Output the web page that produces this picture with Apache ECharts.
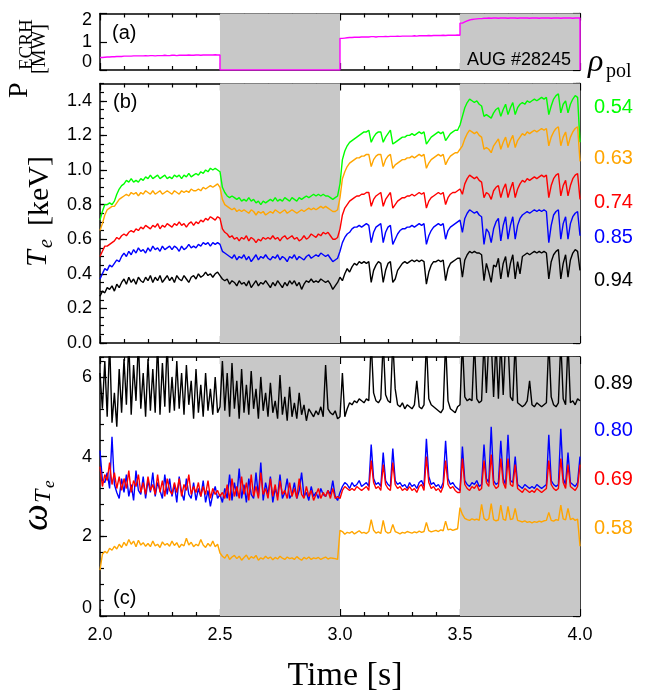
<!DOCTYPE html>
<html><head><meta charset="utf-8">
<script src="https://cdn.jsdelivr.net/npm/echarts@6/dist/echarts.min.js"></script>
<style>html,body{margin:0;padding:0;background:#fff}#c{width:646px;height:698px}</style>
</head><body><div id="c"></div>
<script>
// ---- sampling: t = 2.00 ... 4.00 s, step 0.01 s (201 samples) ----
const tStart = 2.0, tStep = 0.01;

// (a) ECRH power [MW]
const pEcrh = [
0.44,0.45,0.46,0.46,0.47,0.47,0.48,0.48,0.48,0.49,
0.49,0.49,0.49,0.50,0.50,0.50,0.50,0.50,0.51,0.50,
0.51,0.51,0.50,0.51,0.51,0.51,0.52,0.51,0.51,0.52,
0.52,0.51,0.52,0.52,0.52,0.52,0.53,0.52,0.52,0.53,
0.53,0.52,0.53,0.53,0.53,0.53,0.53,0.54,0.53,0.53,
0,0,0,0,0,0,0,0,0,0,
0,0,0,0,0,0,0,0,0,0,
0,0,0,0,0,0,0,0,0,0,
0,0,0,0,0,0,0,0,0,0,
0,0,0,0,0,0,0,0,0,0,
1.12,1.13,1.14,1.15,1.15,1.16,1.16,1.16,1.17,1.17,
1.17,1.17,1.18,1.18,1.17,1.18,1.18,1.18,1.19,1.18,
1.19,1.19,1.19,1.20,1.19,1.20,1.20,1.20,1.20,1.20,
1.21,1.20,1.21,1.21,1.21,1.21,1.22,1.21,1.22,1.22,
1.22,1.22,1.23,1.22,1.23,1.23,1.23,1.23,1.24,1.23,
1.66,1.70,1.74,1.77,1.79,1.80,1.81,1.82,1.82,1.83,
1.83,1.84,1.83,1.84,1.84,1.83,1.84,1.84,1.84,1.83,
1.84,1.84,1.84,1.83,1.84,1.84,1.84,1.84,1.83,1.84,
1.84,1.84,1.83,1.84,1.84,1.84,1.84,1.83,1.84,1.84,
1.84,1.83,1.84,1.84,1.84,1.84,1.83,1.84,1.84,1.84,
0];

// (b) Te [keV] at rho_pol = 0.54, 0.63, 0.74, 0.85, 0.94
const te054 = [
0.71,0.76,0.80,0.80,0.81,0.80,0.82,0.86,0.89,0.91,
0.92,0.94,0.93,0.95,0.93,0.94,0.93,0.95,0.94,0.96,
0.95,0.97,0.95,0.96,0.97,0.95,0.96,0.97,0.95,0.96,
0.95,0.97,0.96,0.97,0.95,0.97,0.96,0.98,0.96,0.97,
0.98,0.97,0.99,0.98,1.00,0.99,1.01,1.00,1.01,1.00,
0.99,0.90,0.87,0.85,0.84,0.85,0.84,0.83,0.84,0.82,
0.83,0.82,0.84,0.82,0.83,0.81,0.82,0.80,0.82,0.81,
0.82,0.83,0.82,0.84,0.82,0.83,0.82,0.84,0.83,0.82,
0.84,0.83,0.82,0.84,0.83,0.84,0.85,0.84,0.85,0.86,
0.85,0.86,0.85,0.86,0.85,0.85,0.84,0.83,0.84,0.85,
0.92,1.06,1.11,1.14,1.16,1.17,1.18,1.19,1.20,1.21,
1.22,1.22,1.23,1.16,1.19,1.21,1.22,1.22,1.16,1.19,
1.21,1.23,1.15,1.16,1.17,1.18,1.19,1.19,1.20,1.20,
1.21,1.20,1.21,1.22,1.21,1.22,1.15,1.17,1.19,1.20,
1.21,1.22,1.21,1.22,1.17,1.19,1.21,1.22,1.23,1.23,
1.26,1.31,1.36,1.39,1.41,1.40,1.39,1.40,1.38,1.37,
1.31,1.32,1.31,1.30,1.33,1.35,1.36,1.31,1.35,1.38,
1.32,1.36,1.39,1.32,1.36,1.38,1.39,1.38,1.40,1.39,
1.40,1.41,1.40,1.41,1.42,1.41,1.42,1.32,1.37,1.41,
1.43,1.44,1.33,1.38,1.40,1.33,1.38,1.41,1.43,1.42,
1.16];
const te063 = [
0.65,0.69,0.74,0.77,0.78,0.79,0.79,0.81,0.83,0.84,
0.85,0.86,0.85,0.87,0.86,0.87,0.85,0.87,0.86,0.88,
0.87,0.86,0.88,0.86,0.87,0.88,0.86,0.87,0.88,0.87,
0.86,0.88,0.87,0.86,0.88,0.87,0.88,0.87,0.89,0.88,
0.88,0.89,0.88,0.90,0.89,0.90,0.91,0.90,0.91,0.92,
0.90,0.83,0.80,0.79,0.78,0.77,0.78,0.76,0.77,0.76,
0.77,0.76,0.75,0.77,0.76,0.74,0.76,0.75,0.76,0.74,
0.75,0.76,0.75,0.77,0.76,0.75,0.76,0.77,0.75,0.76,
0.77,0.76,0.75,0.76,0.77,0.76,0.77,0.78,0.77,0.78,
0.77,0.78,0.79,0.78,0.79,0.78,0.77,0.76,0.76,0.77,
0.84,0.95,0.99,1.02,1.04,1.05,1.06,1.07,1.07,1.08,
1.08,1.09,1.09,1.02,1.06,1.08,1.09,1.09,1.02,1.06,
1.08,1.09,1.01,1.03,1.04,1.05,1.06,1.06,1.07,1.07,
1.08,1.07,1.08,1.09,1.08,1.09,1.01,1.04,1.06,1.07,
1.08,1.09,1.08,1.09,1.03,1.06,1.08,1.09,1.10,1.10,
1.12,1.14,1.18,1.21,1.23,1.22,1.21,1.22,1.20,1.19,
1.12,1.13,1.12,1.10,1.14,1.16,1.18,1.12,1.16,1.19,
1.13,1.17,1.20,1.13,1.17,1.19,1.21,1.20,1.22,1.21,
1.22,1.23,1.22,1.23,1.24,1.23,1.24,1.14,1.19,1.22,
1.24,1.25,1.14,1.19,1.22,1.14,1.19,1.22,1.24,1.25,
1.05];
const te074 = [
0.50,0.53,0.56,0.56,0.57,0.58,0.59,0.61,0.60,0.62,
0.63,0.62,0.64,0.65,0.64,0.66,0.65,0.67,0.66,0.68,
0.67,0.66,0.68,0.67,0.69,0.66,0.68,0.67,0.69,0.68,
0.67,0.69,0.68,0.70,0.68,0.69,0.67,0.69,0.70,0.68,
0.70,0.69,0.71,0.70,0.72,0.71,0.73,0.72,0.71,0.73,
0.72,0.66,0.64,0.63,0.61,0.62,0.60,0.61,0.59,0.61,
0.60,0.62,0.59,0.61,0.60,0.58,0.60,0.59,0.61,0.60,
0.61,0.60,0.62,0.60,0.61,0.59,0.61,0.62,0.60,0.61,
0.62,0.60,0.61,0.59,0.60,0.62,0.60,0.61,0.63,0.62,
0.61,0.63,0.62,0.64,0.63,0.64,0.62,0.60,0.60,0.61,
0.66,0.74,0.78,0.80,0.82,0.83,0.84,0.85,0.85,0.86,
0.86,0.87,0.87,0.79,0.83,0.85,0.86,0.87,0.79,0.83,
0.85,0.87,0.78,0.80,0.82,0.83,0.84,0.84,0.85,0.85,
0.86,0.85,0.86,0.87,0.86,0.87,0.78,0.82,0.84,0.85,
0.86,0.87,0.86,0.87,0.80,0.84,0.86,0.87,0.87,0.88,
0.89,0.86,0.92,0.95,0.97,0.96,0.95,0.96,0.94,0.93,
0.84,0.87,0.86,0.83,0.88,0.90,0.91,0.84,0.89,0.92,
0.84,0.89,0.93,0.84,0.89,0.92,0.94,0.93,0.95,0.94,
0.95,0.96,0.95,0.96,0.97,0.96,0.97,0.84,0.91,0.95,
0.97,0.98,0.85,0.91,0.94,0.85,0.91,0.95,0.97,0.98,
0.83];
const te085 = [
0.37,0.40,0.43,0.42,0.45,0.44,0.46,0.48,0.47,0.50,
0.52,0.50,0.53,0.51,0.54,0.52,0.55,0.53,0.54,0.52,
0.55,0.53,0.56,0.54,0.55,0.53,0.56,0.54,0.55,0.56,
0.54,0.56,0.55,0.53,0.56,0.54,0.55,0.57,0.55,0.56,
0.55,0.57,0.56,0.58,0.57,0.58,0.56,0.58,0.57,0.58,
0.57,0.53,0.52,0.51,0.50,0.49,0.51,0.48,0.50,0.49,
0.51,0.48,0.50,0.47,0.49,0.51,0.48,0.50,0.49,0.51,
0.49,0.48,0.50,0.49,0.51,0.48,0.50,0.49,0.47,0.50,
0.49,0.51,0.48,0.50,0.49,0.48,0.50,0.51,0.49,0.50,
0.51,0.50,0.52,0.51,0.50,0.51,0.49,0.47,0.48,0.49,
0.53,0.58,0.61,0.63,0.64,0.66,0.67,0.67,0.68,0.67,
0.68,0.69,0.68,0.58,0.64,0.67,0.68,0.69,0.58,0.64,
0.67,0.68,0.57,0.60,0.63,0.65,0.66,0.66,0.67,0.67,
0.68,0.67,0.68,0.69,0.68,0.69,0.57,0.62,0.65,0.67,
0.68,0.69,0.68,0.69,0.60,0.65,0.67,0.68,0.69,0.70,
0.71,0.64,0.72,0.75,0.77,0.76,0.75,0.76,0.74,0.73,
0.57,0.66,0.64,0.58,0.66,0.70,0.72,0.59,0.68,0.73,
0.60,0.68,0.73,0.60,0.68,0.72,0.74,0.75,0.76,0.75,
0.76,0.77,0.76,0.77,0.76,0.77,0.76,0.58,0.68,0.74,
0.76,0.77,0.60,0.69,0.73,0.60,0.69,0.73,0.75,0.76,
0.62];
const te094 = [
0.27,0.30,0.29,0.32,0.31,0.33,0.30,0.34,0.32,0.35,
0.37,0.34,0.38,0.35,0.37,0.34,0.38,0.36,0.35,0.38,
0.36,0.39,0.35,0.38,0.36,0.39,0.35,0.37,0.39,0.36,
0.38,0.35,0.39,0.37,0.36,0.39,0.37,0.35,0.38,0.39,
0.37,0.40,0.38,0.39,0.41,0.39,0.40,0.38,0.40,0.41,
0.39,0.37,0.36,0.37,0.34,0.36,0.35,0.33,0.36,0.34,
0.35,0.33,0.36,0.32,0.34,0.36,0.33,0.35,0.34,0.36,
0.34,0.32,0.35,0.33,0.36,0.34,0.32,0.35,0.33,0.36,
0.34,0.36,0.33,0.35,0.31,0.34,0.36,0.35,0.37,0.35,
0.36,0.35,0.37,0.36,0.35,0.36,0.34,0.31,0.33,0.35,
0.38,0.36,0.40,0.43,0.41,0.44,0.46,0.45,0.47,0.46,
0.47,0.46,0.47,0.35,0.42,0.45,0.47,0.46,0.35,0.42,
0.46,0.47,0.35,0.37,0.42,0.44,0.46,0.47,0.46,0.47,
0.48,0.47,0.48,0.47,0.48,0.47,0.34,0.41,0.45,0.47,
0.47,0.48,0.47,0.48,0.36,0.43,0.46,0.47,0.48,0.49,
0.49,0.38,0.48,0.51,0.53,0.52,0.53,0.52,0.52,0.51,
0.36,0.46,0.41,0.35,0.45,0.44,0.49,0.37,0.46,0.50,
0.38,0.46,0.51,0.37,0.47,0.40,0.50,0.51,0.52,0.51,
0.52,0.53,0.52,0.53,0.52,0.53,0.52,0.37,0.47,0.51,
0.53,0.54,0.37,0.46,0.51,0.38,0.48,0.52,0.54,0.53,
0.42];

// (c) omega_Te at rho_pol = 0.89, 0.80, 0.69, 0.58
const w089 = [
6.10,5.20,6.40,5.00,6.90,4.85,5.60,4.75,6.20,5.10,
6.45,5.30,6.90,5.05,6.30,5.40,6.90,5.20,6.10,5.00,
6.45,5.15,6.20,5.10,6.90,5.05,6.35,5.25,6.90,5.10,
6.00,5.15,6.40,5.20,6.10,5.05,6.30,5.30,5.90,4.95,
6.20,5.10,5.80,5.00,6.10,5.15,5.70,5.05,6.00,5.10,
5.25,6.40,5.15,6.10,5.00,6.35,5.20,5.90,4.95,6.20,
5.10,5.80,5.05,6.15,5.20,5.70,4.95,6.00,5.15,5.60,
5.00,5.85,5.10,5.40,4.95,6.05,5.05,5.50,4.90,5.75,
5.00,5.35,4.95,5.60,5.05,5.30,4.90,5.20,5.10,5.00,
5.15,5.05,5.25,5.00,6.30,5.20,5.10,5.05,5.15,4.95,
5.00,6.10,5.00,5.20,5.35,5.30,5.40,5.35,5.45,5.40,
5.35,5.45,5.40,6.90,5.60,5.40,5.35,5.45,6.90,5.55,
5.40,5.35,6.90,5.70,5.30,5.25,5.35,5.20,5.30,5.25,
5.20,5.30,5.90,5.25,5.20,5.30,6.90,5.45,5.30,5.25,
5.20,5.15,5.10,5.20,6.90,5.40,5.20,5.15,5.10,5.25,
5.30,6.90,5.50,5.40,5.45,5.40,6.90,5.45,5.35,5.40,
6.90,5.60,6.90,6.90,5.50,6.90,5.45,6.90,5.55,6.90,
6.90,5.50,5.40,6.90,5.35,5.30,5.25,5.30,5.40,5.90,
5.30,5.25,5.35,5.30,5.25,5.30,5.35,6.90,5.50,5.30,
5.25,5.35,6.90,5.45,5.30,6.90,5.35,5.40,5.30,5.45,
5.40];
const w080 = [
4.15,3.40,3.35,3.60,3.20,4.50,3.30,3.10,2.95,3.45,
3.10,3.55,3.00,3.30,2.90,3.65,3.15,3.05,3.50,2.95,
3.40,3.10,3.60,3.00,3.35,3.15,2.95,3.55,3.05,3.45,
3.00,3.30,2.85,3.50,3.10,2.90,3.45,3.05,2.95,3.35,
2.90,3.20,3.00,3.40,2.85,3.15,2.75,3.05,3.25,2.95,
3.05,2.85,3.20,2.95,3.55,2.90,3.35,3.00,3.70,2.95,
3.30,2.85,3.45,3.05,2.95,3.60,3.00,3.85,2.90,3.35,
3.05,3.50,2.85,3.20,3.00,3.55,2.95,3.10,3.45,2.95,
3.05,3.35,2.95,3.15,3.60,3.00,3.10,2.90,3.25,3.00,
3.10,2.95,3.20,3.05,3.00,3.15,3.05,3.40,3.00,2.90,
3.10,3.25,3.35,3.30,3.20,3.35,3.25,3.30,3.40,3.25,
3.30,3.35,3.25,4.30,3.45,3.30,3.35,3.25,4.10,3.40,
3.30,3.25,4.20,3.40,3.30,3.35,3.25,3.30,3.20,3.35,
3.25,3.30,3.20,3.35,3.40,3.25,4.45,3.50,3.30,3.35,
3.25,3.30,3.20,3.35,4.40,3.45,3.30,3.35,3.25,3.20,
3.15,4.25,3.40,3.30,3.25,3.35,3.30,3.40,3.25,3.30,
4.30,3.45,3.35,4.75,3.40,3.30,3.35,4.40,3.45,3.30,
4.55,3.40,3.35,4.00,3.30,3.25,3.20,3.30,3.25,3.20,
3.25,3.20,3.30,3.25,3.20,3.25,3.30,4.55,3.40,3.30,
3.25,3.30,4.70,3.45,3.30,4.10,3.35,3.30,3.25,3.35,
4.00];
const w069 = [
3.75,3.25,3.55,3.40,3.85,3.30,3.60,3.20,3.50,3.15,
3.45,3.20,3.65,3.10,3.40,3.25,3.55,3.10,3.35,3.05,
3.50,3.15,3.30,3.05,3.55,3.10,3.40,3.00,3.45,3.15,
3.05,3.35,3.10,3.45,3.00,3.30,3.15,3.55,3.05,3.25,
3.10,3.35,3.00,3.25,3.05,3.40,2.95,3.20,3.05,3.15,
3.00,3.10,2.95,3.30,2.90,3.45,3.00,3.25,2.95,3.50,
3.05,3.35,2.90,3.55,3.00,3.25,2.95,3.60,3.05,3.20,
2.95,3.45,3.00,3.30,2.90,3.40,3.05,3.15,2.95,3.35,
3.00,3.20,2.95,3.45,3.05,2.95,3.25,3.00,3.15,2.90,
3.05,3.20,2.95,3.10,3.00,3.15,2.95,3.20,2.95,3.00,
2.95,3.15,3.25,3.20,3.15,3.20,3.15,3.25,3.20,3.15,
3.20,3.25,3.15,3.90,3.35,3.20,3.25,3.15,3.80,3.30,
3.20,3.15,3.85,3.30,3.20,3.25,3.15,3.20,3.15,3.25,
3.15,3.20,3.10,3.25,3.30,3.15,4.00,3.35,3.20,3.25,
3.15,3.20,3.10,3.25,3.90,3.30,3.20,3.25,3.15,3.10,
3.10,3.95,3.30,3.20,3.15,3.25,3.20,3.30,3.15,3.20,
3.90,3.35,3.25,4.05,3.30,3.20,3.25,3.95,3.35,3.20,
3.95,3.30,3.25,3.80,3.20,3.15,3.10,3.20,3.15,3.10,
3.15,3.10,3.20,3.15,3.10,3.15,3.20,3.90,3.30,3.20,
3.15,3.20,3.95,3.35,3.20,3.80,3.25,3.20,3.15,3.25,
3.80];
const w058 = [
1.15,1.55,1.62,1.58,1.70,1.65,1.75,1.68,1.80,1.72,
1.85,1.76,1.92,1.80,1.88,1.74,1.90,1.78,1.84,1.75,
1.82,1.74,1.88,1.76,1.80,1.72,1.86,1.78,1.82,1.75,
1.88,1.77,1.84,1.72,1.80,1.76,1.95,1.78,1.85,1.74,
1.80,1.76,1.92,1.78,1.72,1.82,1.75,1.88,1.74,1.80,
1.58,1.50,1.45,1.55,1.42,1.48,1.52,1.44,1.50,1.40,
1.47,1.53,1.42,1.49,1.45,1.52,1.40,1.46,1.43,1.50,
1.44,1.48,1.41,1.47,1.43,1.50,1.45,1.42,1.48,1.44,
1.46,1.42,1.49,1.44,1.40,1.47,1.43,1.48,1.42,1.46,
1.44,1.47,1.42,1.45,1.48,1.43,1.46,1.45,1.44,1.42,
2.15,2.12,2.05,2.10,2.08,2.12,2.06,2.10,2.14,2.08,
2.10,2.07,2.12,2.42,2.15,2.08,2.11,2.07,2.40,2.12,
2.08,2.10,2.30,2.12,2.09,2.06,2.10,2.08,2.12,2.10,
2.08,2.11,2.09,2.13,2.10,2.12,2.35,2.14,2.11,2.13,
2.15,2.12,2.16,2.14,2.38,2.16,2.18,2.15,2.17,2.19,
2.72,2.55,2.45,2.42,2.40,2.44,2.41,2.43,2.40,2.80,
2.45,2.40,2.44,2.82,2.42,2.39,2.41,2.78,2.43,2.40,
2.75,2.42,2.44,2.70,2.40,2.38,2.36,2.39,2.35,2.37,
2.34,2.37,2.35,2.38,2.36,2.39,2.40,2.60,2.40,2.38,
2.42,2.40,2.78,2.44,2.41,2.70,2.42,2.45,2.40,2.43,
1.75];

const heatingOffBands = [[2.5, 3.0], [3.5, 4.0]];
const teLabels = ['0.54', '0.63', '0.74', '0.85', '0.94'];
const wLabels = ['0.89', '0.80', '0.69', '0.58'];

// ---- build ----
const times = pEcrh.map((_, i) => +(tStart + i * tStep).toFixed(2));
const pairs = arr => times.map((t, i) => [t, arr[i]]);
const BLACK = '#000';
const SANS = 'Liberation Sans', SERIF = 'Liberation Serif';

const grids = [
  { left: 100, right: 66, top: 13.5, height: 56.5 },
  { left: 100, right: 66, top: 83.5, height: 259.5 },
  { left: 100, right: 66, top: 357, height: 259 }
];

const tickStyle = { color: BLACK, width: 1.2 };
const lineStyleAx = { color: BLACK, width: 1.5 };

function xAxes(g, labels) {
  const base = {
    gridIndex: g, type: 'value', min: 2, max: 4, interval: 0.5,
    splitLine: { show: false },
    axisLine: { show: true, onZero: false, lineStyle: lineStyleAx },
    axisTick: { show: true, inside: true, length: 7, lineStyle: tickStyle },
    minorTick: { show: true, splitNumber: 5, length: 4, lineStyle: tickStyle },
    minorSplitLine: { show: false }
  };
  return [
    Object.assign({}, base, { position: 'bottom',
      axisLabel: { show: labels, formatter: v => v.toFixed(1), margin: 10, fontSize: 18, color: BLACK, fontFamily: SANS } }),
    Object.assign({}, base, { position: 'top', axisLabel: { show: false } })
  ];
}

function yAxes(g, min, max, major, minor, fmt, showMax) {
  const base = {
    gridIndex: g, type: 'value', min, max,
    splitLine: { show: false },
    axisLine: { show: true, onZero: false, lineStyle: lineStyleAx }
  };
  const label = { show: true, formatter: fmt, margin: 8, fontSize: 18, color: BLACK, fontFamily: SANS,
    showMaxLabel: showMax, showMinLabel: true,
    rich: { lo: { fontSize: 18, fontFamily: SANS, color: BLACK, padding: [0, 0, 15, 0] },
            hi: { fontSize: 18, fontFamily: SANS, color: BLACK, padding: [13, 0, 0, 0] } } };
  const out = [
    Object.assign({}, base, { position: 'left', interval: major,
      axisTick: { show: true, inside: true, length: 7, lineStyle: tickStyle }, axisLabel: label }),
    Object.assign({}, base, { position: 'right', interval: major,
      axisTick: { show: true, inside: true, length: 7, lineStyle: tickStyle }, axisLabel: { show: false } })
  ];
  if (minor) {
    out.push(Object.assign({}, base, { position: 'left', interval: minor, axisLine: { show: false },
      axisTick: { show: true, inside: true, length: 4, lineStyle: tickStyle }, axisLabel: { show: false } }));
    out.push(Object.assign({}, base, { position: 'right', interval: minor, axisLine: { show: false },
      axisTick: { show: true, inside: true, length: 4, lineStyle: tickStyle }, axisLabel: { show: false } }));
  }
  return out;
}

const xAxis = [].concat(xAxes(0, false), xAxes(1, false), xAxes(2, true));
const yA = yAxes(0, 0, 2, 1, null, v => v === 0 ? '{lo|0}' : (v === 2 ? '{hi|2}' : String(v)), true);
const yB = yAxes(1, 0, 1.5, 0.2, 0.05, v => v.toFixed(1), false);
const yC = yAxes(2, 0, 6.5, 2, 0.4, v => v === 0 ? '{lo|0}' : String(v), false);
const yAxis = [].concat(yA, yB, yC);
const yIdx = [0, yA.length, yA.length + yB.length];

function bandSeries(g) {
  return {
    type: 'line', xAxisIndex: g * 2, yAxisIndex: yIdx[g], data: [[2, null]], symbol: 'none', silent: true,
    animation: false, z: 1,
    markArea: { silent: true, z: 1, itemStyle: { color: '#c8c8c8', opacity: 1 }, label: { show: false },
      data: heatingOffBands.map(b => [{ xAxis: b[0] }, { xAxis: b[1] }]) }
  };
}
function line(arr, color, g, extra) {
  return Object.assign({
    type: 'line', xAxisIndex: g * 2, yAxisIndex: yIdx[g], data: pairs(arr),
    symbol: 'none', showSymbol: false, silent: true, animation: false, clip: true, z: 3,
    lineStyle: { color, width: 1.4 }, itemStyle: { color }
  }, extra || {});
}

const series = [
  bandSeries(0), bandSeries(1), bandSeries(2),
  line(pEcrh, '#ff00ff', 0, { step: 'end' }),
  line(te054, '#00ff00', 1), line(te063, '#ffa500', 1), line(te074, '#ff0000', 1),
  line(te085, '#0000ff', 1), line(te094, '#000000', 1),
  line(w089, '#000000', 2), line(w080, '#0000ff', 2), line(w069, '#ff0000', 2), line(w058, '#ffa500', 2)
];

function txt(x, y, text, size, color, family, opts) {
  return { type: 'text', x, y, silent: true, z: 10,
    style: Object.assign({ text, fontSize: size, fontFamily: family || SANS, fill: color || BLACK,
      align: 'left', verticalAlign: 'middle' }, opts || {}) };
}
const teColors = ['#00ff00', '#ffa500', '#ff0000', '#0000ff', '#000000'];
const teY = [107, 158, 202, 237, 280];
const wColors = ['#000000', '#0000ff', '#ff0000', '#ffa500'];
const wY = [383, 430, 479, 528];

const graphic = [
  txt(112, 33, '(a)', 20), txt(113, 102, '(b)', 20), txt(113, 598, '(c)', 20),
  txt(571, 60, 'AUG #28245', 18, BLACK, SANS, { align: 'right' }),
  txt(588, 63, 'ρ', 32, BLACK, SERIF, { fontStyle: 'italic' }),
  txt(606, 72, 'pol', 20, BLACK, SERIF),
  txt(345, 676, 'Time [s]', 34, BLACK, SERIF, { align: 'center' })
]
.concat(teLabels.map((s, i) => txt(594, teY[i], s, 20, teColors[i])))
.concat(wLabels.map((s, i) => txt(594, wY[i], s, 20, wColors[i])))
.concat([
  { type: 'group', x: 0, y: 0, rotation: Math.PI / 2, children: [
    txt(-98, 20, 'P', 28, BLACK, SERIF),
    txt(-70, 27, 'ECRH', 19, BLACK, SERIF),
    txt(-74, 40, '[MW]', 20, BLACK, SERIF)
  ]},
  { type: 'group', x: 0, y: 0, rotation: Math.PI / 2, children: [
    txt(-267, 38, 'T', 30, BLACK, SERIF, { fontStyle: 'italic' }),
    txt(-248, 47, 'e', 20, BLACK, SERIF, { fontStyle: 'italic' }),
    txt(-226, 40, '[keV]', 30, BLACK, SERIF)
  ]},
  { type: 'group', x: 0, y: 0, rotation: Math.PI / 2, children: [
    txt(-531, 37, 'ω', 38, BLACK, SERIF, { fontStyle: 'italic' }),
    txt(-503, 44, 'T', 24, BLACK, SERIF, { fontStyle: 'italic' }),
    txt(-488, 50, 'e', 17, BLACK, SERIF, { fontStyle: 'italic' })
  ]}
]);

const chart = echarts.init(document.getElementById('c'), null, { renderer: 'canvas' });
chart.setOption({
  animation: false, backgroundColor: '#fff',
  grid: grids, xAxis, yAxis, series, graphic
});
</script></body></html>
